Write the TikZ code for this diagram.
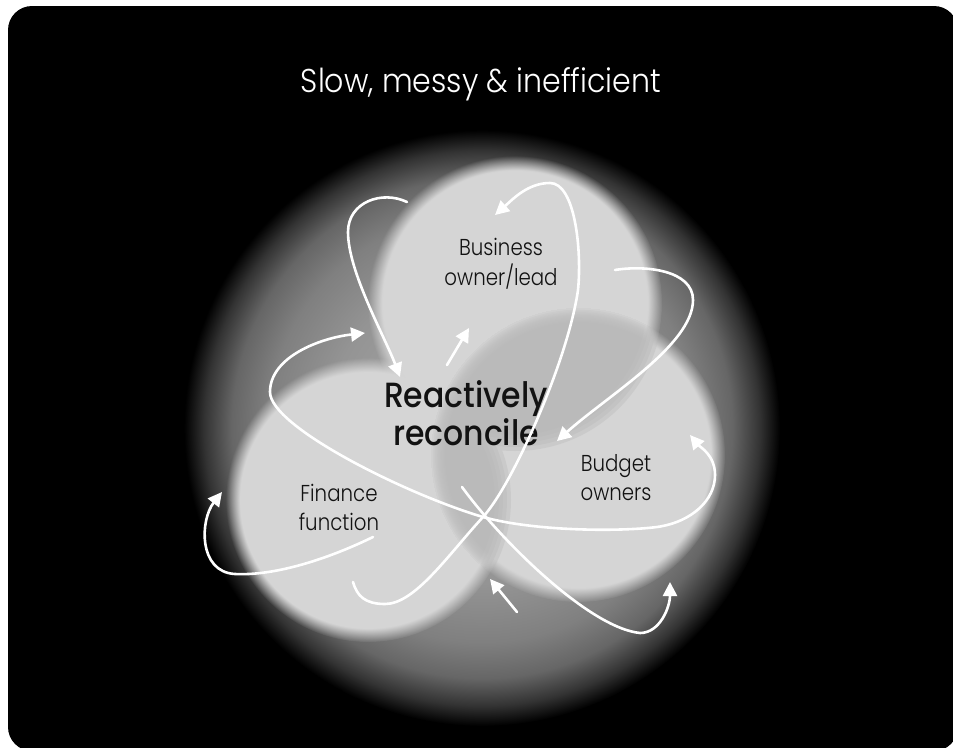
\documentclass[tikz,border=0pt]{standalone}
\usepackage{fontspec}
\setmainfont{Poppins}[UprightFont=* Light, BoldFont=* Medium]
\newfontfamily\ttlfont{Poppins}[UprightFont=* Light, FakeStretch=0.91]
\newfontfamily\lblfont{Poppins}[UprightFont=* Light, FakeStretch=0.86]
\newfontfamily\bigfont{Poppins}[UprightFont=* Medium, FakeStretch=0.9]
\usetikzlibrary{arrows.meta,fadings}
\definecolor{lightc}{gray}{0.835}
\definecolor{darkc}{gray}{0.72}
\definecolor{haloA}{gray}{0.68}
\definecolor{haloB}{gray}{0.58}
\definecolor{haloC}{gray}{0.5}
\definecolor{haloD}{gray}{0.4}
\definecolor{haloE}{gray}{0.2}
\definecolor{inkc}{gray}{0.07}
\pgfdeclareradialshading{softedgeshade}{\pgfpointorigin}{color(0bp)=(pgftransparent!0); color(22.5bp)=(pgftransparent!0); color(25bp)=(pgftransparent!100); color(50bp)=(pgftransparent!100)}
\pgfdeclarefading{softfade}{\pgfuseshading{softedgeshade}}
\pgfdeclareradialshading{haloshade}{\pgfpointorigin}{color(0bp)=(haloA); color(13bp)=(haloB); color(18bp)=(haloC); color(21bp)=(haloD); color(23.3bp)=(haloE); color(25bp)=(black); color(50bp)=(black)}
\tikzset{
  flow/.style={draw=white, line width=2.6pt, line cap=round, -{Triangle[length=14pt,width=14pt]}},
  flowboth/.style={draw=white, line width=2.6pt, {Triangle[length=14pt,width=14pt]}-{Triangle[length=14pt,width=14pt]}},
  lbl/.style={anchor=base, text=inkc, font=\lblfont\fontsize{23}{27}\selectfont, inner sep=0pt},
  big/.style={anchor=base, text=inkc, font=\bigfont\fontsize{35}{40}\selectfont, inner sep=0pt},
  ttl/.style={anchor=base, text=white, font=\ttlfont\fontsize{33}{38}\selectfont, inner sep=0pt}
}
\begin{document}
\begin{tikzpicture}[x=1pt,y=-1pt]
\useasboundingbox (0,0) rectangle (953,747);
\fill[white] (0,0) rectangle (953,747);
\fill[black, rounded corners=24pt] (8,6) rectangle (958,751);
% halo
\shade[shading=haloshade] (482,428) circle (298pt);
% light circles
\fill[lightc, path fading=softfade] (515,303) circle (147pt);
\fill[lightc, path fading=softfade] (368,500) circle (142pt);
\fill[lightc, path fading=softfade] (578,455) circle (147pt);
% darker overlaps: right circle where it lies inside the top or left circle
\foreach \rt/\rl in {132/127, 136/131, 140/135, 144/139, 148/143} {
  \begin{scope}
    \clip (515,303) circle (\rt pt) (368,500) circle (\rl pt);
    \fill[darkc, fill opacity=0.35, path fading=softfade] (578,455) circle (147pt);
  \end{scope}
}
% title
\node[ttl] (title) at (481,92) {Slow, messy \& inefficient};
% labels
\node[lbl] (bus1) at (501,255) {Business};
\node[lbl] (bus2) at (501,285) {owner/lead};
\node[lbl] (bud1) at (616,471) {Budget};
\node[lbl] (bud2) at (616,500) {owners};
\node[lbl] (fin1) at (339,501) {Finance};
\node[lbl] (fin2) at (339,530) {function};
\node[big] (rea1) at (466,407) {Reactively};
\node[big] (rea2) at (466,445) {reconcile};
% coordinates
\coordinate (A0) at (407,202); \coordinate (A1) at (348,232); \coordinate (A2) at (400,377);
\coordinate (B0) at (353,582); \coordinate (B1) at (385,604); \coordinate (B2) at (483,517);
\coordinate (B3) at (578,290); \coordinate (B4) at (550,183); \coordinate (B5) at (495,215);
\coordinate (C0) at (615,270); \coordinate (C1) at (693,300); \coordinate (C2) at (557,441);
\coordinate (D0) at (365,333); \coordinate (D1) at (270,392); \coordinate (D2) at (483,517);
\coordinate (D3) at (657,527); \coordinate (D4) at (715,475); \coordinate (D5) at (690,435);
\coordinate (E0) at (373,537); \coordinate (E1) at (235,574); \coordinate (E2) at (222,492);
\coordinate (F0) at (462,487); \coordinate (F1) at (640,633); \coordinate (F2) at (670,582);
\coordinate (S1a) at (447,365); \coordinate (S1b) at (469,328);
\coordinate (S2a) at (517,612); \coordinate (S2b) at (490,579);
% arrows
\draw[flow] (A0) .. controls +(-25,-12) and +(0,-30) .. (A1) .. controls +(0,40) and +(-15,-40) .. (A2);
\draw[flow] (B0) .. controls +(4,14) and +(-20,0) .. (B1) .. controls +(30,0) and +(-35,38) .. (B2) .. controls +(30,-33) and +(-10,70) .. (B3) .. controls +(4,-40) and +(25,0) .. (B4) .. controls +(-22,0) and +(18,-16) .. (B5);
\draw[flow] (C0) .. controls +(30,-5) and +(0,-30) .. (C1) .. controls +(0,45) and +(50,-45) .. (C2);
\draw[flowboth] (D0) .. controls +(-45,5) and +(0,-35) .. (D1) .. controls +(0,35) and +(-75,-22) .. (D2) .. controls +(50,14) and +(-40,5) .. (D3) .. controls +(35,-5) and +(0,25) .. (D4) .. controls +(0,-20) and +(10,12) .. (D5);
\draw[flow] (E0) .. controls +(-45,22) and +(40,2) .. (E1) .. controls +(-37,-2) and +(-22,28) .. (E2);
\draw[flow] (F0) .. controls +(40,55) and +(-50,-5) .. (F1) .. controls +(20,0) and +(0,25) .. (F2);
\draw[flow] (S1a) -- (S1b);
\draw[flow] (S2a) -- (S2b);
\end{tikzpicture}
\end{document}
